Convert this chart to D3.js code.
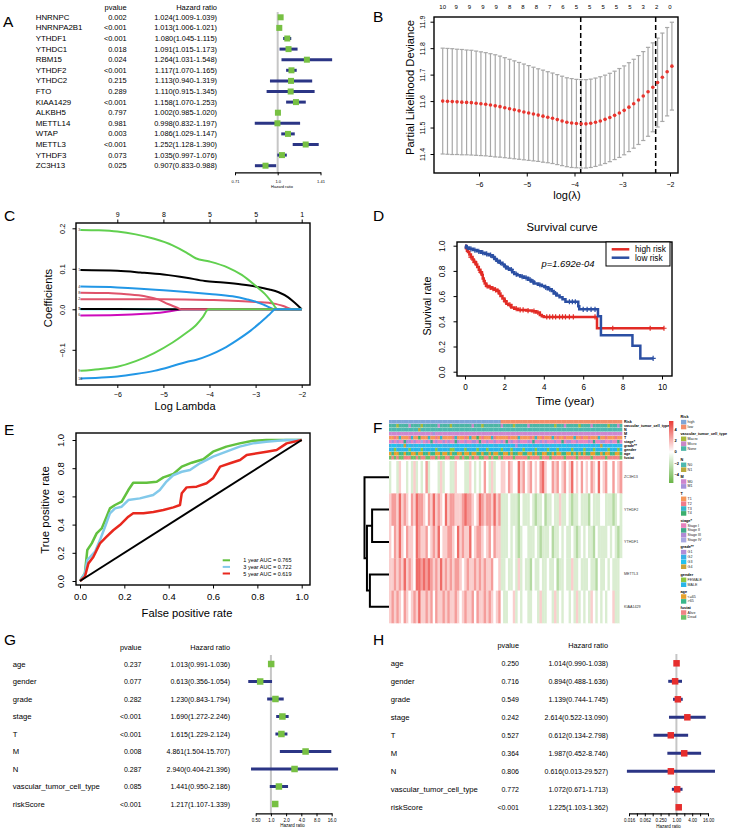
<!DOCTYPE html>
<html>
<head>
<meta charset="utf-8">
<script src="https://cdn.jsdelivr.net/npm/d3@7/dist/d3.min.js"></script>
<style>
html,body{margin:0;padding:0;background:#fff;}
svg{display:block;font-family:"Liberation Sans",Arial,Helvetica,sans-serif;}
</style>
</head>
<body>
<script>
// ================= DATA =================
// Panel A : univariate Cox of m6A genes
const genesA = ["HNRNPC","HNRNPA2B1","YTHDF1","YTHDC1","RBM15","YTHDF2","YTHDC2","FTO","KIAA1429","ALKBH5","METTL14","WTAP","METTL3","YTHDF3","ZC3H13"];
const pA  = ["0.002","<0.001","<0.001","0.018","0.024","<0.001","0.215","0.289","<0.001","0.797","0.981","0.003","<0.001","0.073","0.025"];
const hrA = [1.024,1.013,1.080,1.091,1.264,1.117,1.113,1.110,1.158,1.002,0.998,1.086,1.252,1.035,0.907];
const loA = [1.009,1.006,1.045,1.015,1.031,1.070,0.940,0.915,1.070,0.985,0.832,1.029,1.128,0.997,0.833];
const hiA = [1.039,1.021,1.115,1.173,1.548,1.165,1.319,1.345,1.253,1.020,1.197,1.147,1.390,1.076,0.988];
const ticksA = [0.71,1.0,1.41];
const tickLabA = ["0.71","1.0","1.41"];

// Panel B : cross-validation curve
const lambdaB = [-6.76,-6.66,-6.56,-6.46,-6.36,-6.26,-6.16,-6.06,-5.96,-5.86,-5.76,-5.66,-5.56,-5.46,-5.36,-5.26,-5.16,-5.06,-4.96,-4.86,-4.76,-4.66,-4.56,-4.46,-4.36,-4.26,-4.16,-4.06,-3.96,-3.86,-3.76,-3.66,-3.56,-3.46,-3.36,-3.26,-3.16,-3.06,-2.96,-2.86,-2.76,-2.66,-2.56,-2.46,-2.36,-2.26,-2.16,-2.06,-1.96];
const meanB = [11.600,11.599,11.598,11.597,11.596,11.595,11.594,11.592,11.590,11.588,11.585,11.582,11.579,11.575,11.571,11.567,11.563,11.559,11.555,11.551,11.547,11.543,11.539,11.535,11.530,11.525,11.520,11.517,11.515,11.514,11.514,11.516,11.520,11.525,11.531,11.538,11.546,11.555,11.565,11.577,11.590,11.604,11.619,11.635,11.652,11.670,11.690,11.711,11.732];
const sdB = [0.200,0.200,0.200,0.199,0.199,0.198,0.198,0.197,0.196,0.195,0.194,0.193,0.191,0.189,0.187,0.185,0.183,0.181,0.179,0.177,0.175,0.174,0.172,0.171,0.170,0.169,0.168,0.168,0.167,0.167,0.167,0.167,0.167,0.167,0.167,0.167,0.167,0.168,0.168,0.168,0.168,0.168,0.168,0.168,0.168,0.168,0.167,0.167,0.166];
const nzB = ["10","9","9","9","9","8","8","8","7","6","5","5","5","5","5","3","2","0"];
const cutB = [-3.87,-2.30];
const xTicksB = [-6,-5,-4,-3,-2];
const yTicksB = [11.4,11.5,11.6,11.7,11.8,11.9];

// Panel C : coefficient paths (log lambda, coefficient)
const pathC1 = [[-6.8,0.097],[-6.0,0.095],[-5.5,0.091],[-5.0,0.086],[-4.5,0.078],[-4.1,0.070],[-3.7,0.066],[-3.3,0.061],[-3.0,0.056],[-2.7,0.049],[-2.5,0.042],[-2.3,0.030],[-2.15,0.016],[-2.0,0.0]];
const pathC2 = [[-6.8,0.025],[-6.0,0.025],[-5.0,0.025],[-4.0,0.023],[-3.0,0.018],[-2.6,0.014],[-2.4,0.008],[-2.2,0.0],[-2.0,0.0]];
const pathC3 = [[-6.8,0.196],[-6.4,0.195],[-6.0,0.192],[-5.6,0.185],[-5.2,0.174],[-4.8,0.158],[-4.5,0.140],[-4.3,0.126],[-4.0,0.118],[-3.6,0.103],[-3.3,0.085],[-3.0,0.058],[-2.8,0.038],[-2.65,0.018],[-2.52,0.0],[-2.0,0.0]];
const pathC4 = [[-6.8,0.056],[-6.0,0.054],[-5.5,0.051],[-5.0,0.047],[-4.5,0.043],[-4.0,0.038],[-3.5,0.032],[-3.2,0.025],[-3.0,0.019],[-2.8,0.010],[-2.57,0.0],[-2.0,0.0]];
const pathC5 = [[-6.8,0.0],[-2.0,0.0]];
const pathC6 = [[-6.8,-0.015],[-6.0,-0.014],[-5.4,-0.011],[-5.0,-0.007],[-4.7,-0.002],[-4.6,0.0],[-2.0,0.0]];
const pathC7 = [[-6.8,0.001],[-6.0,0.0006],[-5.0,0.0],[-2.0,0.0]];
const pathC8 = [[-6.8,0.041],[-6.2,0.040],[-5.8,0.037],[-5.4,0.032],[-5.1,0.024],[-4.9,0.013],[-4.7,0.004],[-4.62,0.0],[-2.0,0.0]];
const pathC9 = [[-6.8,-0.152],[-6.4,-0.148],[-6.0,-0.142],[-5.6,-0.128],[-5.2,-0.108],[-4.8,-0.082],[-4.5,-0.058],[-4.3,-0.040],[-4.15,-0.020],[-4.02,0.0],[-2.0,0.0]];
const pathC10 = [[-6.8,-0.171],[-6.4,-0.169],[-6.0,-0.166],[-5.6,-0.160],[-5.2,-0.152],[-4.8,-0.140],[-4.5,-0.130],[-4.3,-0.125],[-4.0,-0.113],[-3.7,-0.097],[-3.4,-0.076],[-3.1,-0.052],[-2.9,-0.033],[-2.7,-0.013],[-2.57,0.0],[-2.0,0.0]];
const pathsC = [pathC1,pathC2,pathC3,pathC4,pathC5,pathC6,pathC7,pathC8,pathC9,pathC10];
const labelsC = ["1","2","3","4","5","6","7","8","9","10"];
const colorsC = ["#000000","#DF536B","#61D04F","#2297E6","#28E2E5","#CD0BBC","#000000","#DF536B","#61D04F","#2297E6"];
const topC = ["9","8","5","5","1"];
const xTicksC = [-6,-5,-4,-3,-2];
const yTicksC = [-0.1,0.0,0.1,0.2];

// Panel D : Kaplan-Meier
const highT = [0,0.05,0.1,0.15,0.22,0.3,0.38,0.45,0.55,0.62,0.7,0.78,0.85,0.9,0.95,1.0,1.08,1.2,1.35,1.5,1.62,1.72,1.8,1.9,2.0,2.1,2.2,2.35,2.5,2.7,3.1,3.4,3.6,3.8,3.9,4.0,6.7,10.1];
const highS = [1,0.98,0.96,0.95,0.93,0.91,0.89,0.87,0.85,0.83,0.81,0.79,0.77,0.74,0.72,0.70,0.68,0.67,0.66,0.65,0.64,0.62,0.60,0.58,0.56,0.54,0.53,0.51,0.50,0.49,0.485,0.48,0.47,0.45,0.44,0.435,0.345,0.345];
const highC = [0.3,0.5,0.8,1.12,1.28,1.42,1.55,1.68,2.05,2.28,2.6,2.8,2.95,3.2,3.5,3.7,4.15,4.3,4.45,4.6,4.8,4.95,5.1,5.3,5.5,6.6,7.5,9.4,10.1];
const lowT = [0,0.05,0.2,0.4,0.6,0.8,1.0,1.2,1.4,1.5,1.6,1.75,1.9,2.0,2.1,2.25,2.4,2.5,2.65,2.8,3.0,3.2,3.35,3.5,3.7,3.9,4.05,4.2,4.4,4.5,4.65,4.8,4.95,5.1,5.75,5.8,6.75,6.9,8.5,8.9,9.55];
const lowS = [1,0.985,0.975,0.965,0.955,0.945,0.935,0.925,0.91,0.895,0.88,0.865,0.85,0.835,0.82,0.81,0.79,0.775,0.765,0.755,0.745,0.73,0.715,0.70,0.69,0.68,0.67,0.655,0.64,0.62,0.605,0.59,0.575,0.555,0.52,0.495,0.44,0.29,0.206,0.105,0.105];
const lowC = [0.12,0.3,0.5,0.7,0.9,1.1,1.3,1.45,1.65,1.8,2.05,2.2,2.35,2.6,2.9,3.1,3.3,3.45,3.8,4.1,4.3,4.6,5.3,5.45,5.6,6.0,6.2,6.4,6.6,9.55];
const groupsD = ["high risk","low risk"];
const xTicksD = [0,2,4,6,8,10];
const yTicksD = [0,0.2,0.4,0.6,0.8,1.0];

// Panel E : ROC
const roc1F = [0,0.022,0.033,0.053,0.075,0.098,0.12,0.135,0.158,0.188,0.218,0.24,0.30,0.346,0.376,0.421,0.459,0.504,0.556,0.60,0.66,0.72,0.78,0.84,1.0];
const roc1T = [0,0.054,0.22,0.267,0.338,0.373,0.456,0.515,0.539,0.563,0.645,0.697,0.697,0.704,0.735,0.759,0.811,0.839,0.863,0.917,0.953,0.976,0.995,1.0,1.0];
const roc3F = [0,0.022,0.033,0.068,0.09,0.113,0.135,0.158,0.188,0.218,0.27,0.33,0.36,0.39,0.42,0.459,0.496,0.541,0.60,0.66,0.72,0.78,0.84,0.93,1.0];
const roc3T = [0,0.054,0.149,0.208,0.29,0.385,0.48,0.515,0.527,0.574,0.586,0.61,0.645,0.705,0.75,0.775,0.787,0.835,0.882,0.917,0.953,0.976,0.988,1.0,1.0];
const roc5F = [0,0.022,0.038,0.06,0.09,0.12,0.15,0.18,0.218,0.24,0.286,0.331,0.376,0.421,0.451,0.459,0.481,0.526,0.571,0.60,0.632,0.677,0.722,0.752,0.842,0.887,0.932,1.0];
const roc5T = [0,0.03,0.125,0.17,0.267,0.314,0.36,0.397,0.456,0.48,0.48,0.49,0.503,0.522,0.539,0.622,0.664,0.669,0.693,0.728,0.811,0.835,0.858,0.894,0.917,0.929,0.976,1.0];
const aucE = ["1 year AUC =  0.765","3 year AUC =  0.722","5 year AUC =  0.619"];
const ticksE = [0,0.2,0.4,0.6,0.8,1.0];

// Panel F : heatmap (value codes: digit - 4) and annotations (category index)
const genesF = ["ZC3H13","YTHDF2","YTHDF1","METTL3","KIAA1429"];
const zc3h13F = "34435443 43534346 34443534 43354443 35434346 43534455 46544756 45645467 54465645 64574546 45465474 56446456";
const ythdf2F = "56657565 46576654 65756547 56655567 66545765 66575633 34333243 33432334 23343353 34323343 33243334 43332343";
const ythdf1F = "54657546 55476556 45657455 66547565 57456654 56465533 34343234 43334323 33423343 43343234 34332433 33434323";
const mettl3F = "55656575 65477676 76565756 56566545 65565656 55644533 43343534 33243343 34334233 43353343 33433243 34343334";
const kiaaF   = "56565465 45657556 56465565 65565456 55646556 56545643 34453434 43344353 34435343 44343534 34354343 43445334";
const riskF   = "00000000 00000000 00000000 00000000 00000000 00000011 11111111 11111111 11111111 11111111 11111111 11111111";
const vascF   = "22202222 12222022 22221222 20222222 22122202 22222212 22202222 21222222 22220222 12222202 22212222 22022212";
const nF      = "00000000 00001000 00000000 00000000 00000000 00000000 00000000 00000000 00000000 00000000 00000000 00000000";
const mF      = "00000000 00000000 00100000 00000000 00000000 00000000 00000000 00000000 00000000 00000000 00000000 00000000";
const tF      = "00102000 12003000 20010200 00120001 02003010 00210000 01000200 00102001 00020100 10002001 00100020 01000100";
const stageF  = "02020012 20200302 01020020 20012002 00220100 20020020 10200200 02010020 20002001 02200200 00201002 20020010";
const gradeF  = "12211231 21121212 21211211 12121221 21212112 12211221 21210121 21212121 12121212 21211212 12121213 21212121";
const genderF = "11011111 01111011 11101111 10011110 11110111 01111101 11011110 11110111 10111011 11101111 01110111 11011101";
const ageF    = "01001101 10010011 01100100 10110010 01001101 10100110 01011001 10010110 01101001 10010101 01100110 10011001";
const fustatF = "10101100 01101001 10010110 01100101 10100110 01011010 00010000 01000010 00100000 10000100 00010000 01000001";
const annNames = ["Risk","vascular_tumor_cell_type","N","M","T","stage*","grade**","gender","age","fustat"];
const annItems = [["high","low"],["Macro","Micro","None"],["N0","N1"],["M0","M1"],["T1","T2","T3","T4"],["Stage I","Stage II","Stage III","Stage IV"],["G1","G2","G3","G4"],["FEMALE","MALE"],["<=65",">65"],["Alive","Dead"]];
const annColors = [["#7ea6d8","#f28e6b"],["#a9b93c","#c987c7","#4cb5a5"],["#4db8b0","#b8a83c"],["#cd86cf","#a793db"],["#f5975a","#f07a8a","#38b4c8","#3aaf6e"],["#e883bf","#40aa8c","#b08ad6","#a8a8e0"],["#b28cd8","#3ab0e6","#22c2ee","#c8a23a"],["#8dc63f","#2ab5e8"],["#e6a12b","#3ab88a"],["#f08486","#6cc16a"]];
const cbTicks = [4,2,0,-2,-4];
// dendrogram merges: [childA, childB, height]
const dendroF = [["YTHDF2","YTHDF1",0.69],["METTL3","KIAA1429",0.78],["m0","m1",0.90],["ZC3H13","m2",1.0]];

// Panel G : univariate Cox of clinical features
const varsG = ["age","gender","grade","stage","T","M","N","vascular_tumor_cell_type","riskScore"];
const pG  = ["0.237","0.077","0.282","<0.001","<0.001","0.008","0.287","0.085","<0.001"];
const hrG = [1.013,0.613,1.230,1.690,1.615,4.861,2.940,1.441,1.217];
const loG = [0.991,0.356,0.843,1.272,1.229,1.504,0.404,0.950,1.107];
const hiG = [1.036,1.054,1.794,2.246,2.124,15.707,21.396,2.186,1.339];
const ticksG = [0.5,1,2,4,8,16];
const tickLabG = ["0.50","1.0","2.0","4.0","8.0","16.0"];

// Panel H : multivariate Cox
const pH  = ["0.250","0.716","0.549","0.242","0.527","0.364","0.806","0.772","<0.001"];
const hrH = [1.014,0.894,1.139,2.614,0.612,1.987,0.616,1.072,1.225];
const loH = [0.990,0.488,0.744,0.522,0.134,0.452,0.013,0.671,1.103];
const hiH = [1.038,1.636,1.745,13.090,2.798,8.746,29.527,1.713,1.362];
const ticksH = [0.015625,0.03125,0.0625,0.125,0.25,0.5,1,2,4,8,16];
const tickLabH = ["0.016","","0.062","","0.250","","1.00","","4.00","","16.00"];

// ================= DRAWING =================
const W = 729, H = 833;
const NAVY = "#2b3585";
const svg = d3.select("body").append("svg").attr("width",W).attr("height",H);
svg.append("rect").attr("width",W).attr("height",H).attr("fill","#fff");

function text(g,x,y,s,size,anchor,opt){
  opt = opt||{};
  const t = g.append("text").attr("x",x).attr("y",y).attr("font-size",size)
    .attr("text-anchor",anchor||"start").attr("dominant-baseline",opt.base||"central")
    .attr("fill",opt.fill||"#000").text(s);
  if(opt.rot) t.attr("transform",`rotate(${opt.rot},${x},${y})`);
  if(opt.weight) t.attr("font-weight",opt.weight);
  if(opt.style) t.attr("font-style",opt.style);
  return t;
}
function styleAxis(a,fs){
  a.attr("font-family",null).attr("font-size",fs);
  a.selectAll(".tick line").attr("stroke","#000").attr("stroke-width",1);
  a.selectAll(".tick text").attr("fill","#000");
}
function axBottom(g,scale,vals,y,size,fmt,off,fs){
  const a = g.append("g").attr("transform",`translate(0,${y})`)
    .call(d3.axisBottom(scale).tickValues(vals).tickSize(size).tickFormat(fmt));
  styleAxis(a,fs); a.select(".domain").remove();
  a.selectAll(".tick text").attr("y",off).attr("dy",null).attr("dominant-baseline","central");
  return a;
}
function axTop(g,scale,vals,y,size,fmt,off,fs){
  const a = g.append("g").attr("transform",`translate(0,${y})`)
    .call(d3.axisTop(scale).tickValues(vals).tickSize(size).tickFormat(fmt));
  styleAxis(a,fs); a.select(".domain").remove();
  a.selectAll(".tick text").attr("y",-off).attr("dy",null).attr("dominant-baseline","central");
  return a;
}
function axLeftRot(g,scale,vals,x,size,fmt,off,fs){
  const a = g.append("g").attr("transform",`translate(${x},0)`)
    .call(d3.axisLeft(scale).tickValues(vals).tickSize(size).tickFormat(fmt));
  styleAxis(a,fs); a.select(".domain").remove();
  a.selectAll(".tick text").attr("x",null).attr("dy",null).attr("text-anchor","middle")
    .attr("dominant-baseline","central").attr("transform",`translate(${-off},0) rotate(-90)`);
  return a;
}
function box(g,x,y,w,h){
  g.append("rect").attr("x",x).attr("y",y).attr("width",w).attr("height",h)
    .attr("fill","none").attr("stroke","#000").attr("stroke-width",1.4);
}
function hrText(h,l,u){ return h.toFixed(3)+"("+l.toFixed(3)+"-"+u.toFixed(3)+")"; }

function forest(g,x,yf,hr,lo,hi,col,sq,vTop,axY,tv,tf,tfs,labOff,hrX,hrY){
  g.append("line").attr("x1",x(1)).attr("x2",x(1)).attr("y1",vTop).attr("y2",axY)
    .attr("stroke","#c6c6c6").attr("stroke-width",2);
  hr.forEach((h,i)=>{
    g.append("line").attr("x1",x(lo[i])).attr("x2",x(hi[i])).attr("y1",yf(i)).attr("y2",yf(i))
      .attr("stroke",NAVY).attr("stroke-width",3);
  });
  hr.forEach((h,i)=>{
    g.append("rect").attr("x",x(h)-sq/2).attr("y",yf(i)-sq/2).attr("width",sq).attr("height",sq).attr("fill",col);
  });
  const a = g.append("g").attr("transform",`translate(0,${axY})`)
    .call(d3.axisBottom(x).tickValues(tv).tickFormat(tf).tickSize(3).tickSizeOuter(0));
  a.attr("font-family",null).attr("font-size",tfs);
  a.select(".domain").attr("stroke","#000").attr("stroke-width",1.3);
  a.selectAll(".tick line").attr("stroke","#000").attr("stroke-width",1);
  a.selectAll(".tick text").attr("fill","#000").attr("y",labOff).attr("dy",null).attr("dominant-baseline","central");
  text(g,hrX,hrY,"Hazard ratio",tfs,"middle");
}

// panel letters
[["A",3,27],["B",373,22],["C",4,221],["D",373,221],["E",4,435],["F",373,433],["G",4,645],["H",373,645]]
  .forEach(d=>text(svg,d[1],d[2],d[0],15.5,"start",{base:"alphabetic"}));

// ---------- Panel A ----------
{
  const g = svg.append("g");
  const yA = i=>17.3+i*10.6;
  text(g,126.7,7.3,"pvalue",7.5,"end");
  text(g,217,7.3,"Hazard ratio",7.5,"end");
  genesA.forEach((s,i)=>{
    text(g,35.7,yA(i),s,7.9);
    text(g,126.7,yA(i),pA[i],7.4,"end");
    text(g,217,yA(i),hrText(hrA[i],loA[i],hiA[i]),7.4,"end");
  });
  const xA = d3.scaleLog().domain([0.71,1.41]).range([235,320.5]);
  forest(g,xA,yA,hrA,loA,hiA,"#77c043",6,12,172.3,ticksA,(d,i)=>tickLabA[i],4,9.5,282,186.5);
}

// ---------- Panel B ----------
{
  const g = svg.append("g");
  const xB = d3.scaleLinear().domain([-6,-2]).range([479,670]);
  const yB = d3.scaleLinear().domain([11.4,11.9]).range([154,21.7]);
  lambdaB.forEach((l,i)=>{
    const x = xB(l), y1 = yB(meanB[i]-sdB[i]), y2 = yB(meanB[i]+sdB[i]);
    g.append("line").attr("x1",x).attr("x2",x).attr("y1",y1).attr("y2",y2).attr("stroke","#a8a8a8").attr("stroke-width",1.2);
    [y1,y2].forEach(y=>g.append("line").attr("x1",x-2.1).attr("x2",x+2.1).attr("y1",y).attr("y2",y).attr("stroke","#a8a8a8").attr("stroke-width",1.2));
  });
  cutB.forEach(c=>g.append("line").attr("x1",xB(c)).attr("x2",xB(c)).attr("y1",17).attr("y2",173)
    .attr("stroke","#000").attr("stroke-width",1.5).attr("stroke-dasharray","5,3"));
  lambdaB.forEach((l,i)=>g.append("circle").attr("cx",xB(l)).attr("cy",yB(meanB[i])).attr("r",1.8).attr("fill","#e8352e"));
  box(g,434,17,244,156);
  axBottom(g,xB,xTicksB,173,3.5,d3.format("d"),11,7);
  axLeftRot(g,yB,yTicksB,434,3.5,d3.format(".1f"),12,7);
  const l0 = -6.76, l1 = -2.0;
  nzB.forEach((s,i)=>text(g,xB(l0+i*(l1-l0)/(nzB.length-1)),6.7,s,6,"middle"));
  text(g,410,87.5,"Partial Likelihood Deviance",11.2,"middle",{rot:-90});
  text(g,567,194.5,"log(\u03bb)",11,"middle");
}

// ---------- Panel C ----------
{
  const g = svg.append("g");
  const xC = d3.scaleLinear().domain([-6,-2]).range([117.3,301.7]);
  const yC = d3.scaleLinear().domain([0,0.2]).range([309.3,228.3]);
  const line = d3.line().x(d=>xC(d[0])).y(d=>yC(d[1])).curve(d3.curveMonotoneX);
  pathsC.forEach((p,i)=>g.append("path").attr("d",line(p)).attr("fill","none").attr("stroke",colorsC[i]).attr("stroke-width",2));
  pathsC.forEach((p,i)=>text(g,78.3,yC(p[0][1]),labelsC[i],3.6,"start",{fill:"#222"}));
  box(g,76,223,234,162);
  axBottom(g,xC,xTicksC,385,3,d3.format("d"),9,7);
  axTop(g,xC,xTicksC,223,3.5,(d,i)=>topC[i],9,7);
  axLeftRot(g,yC,yTicksC,76,3.5,d3.format(".1f"),13.3,7.3);
  text(g,48,298,"Coefficients",11.2,"middle",{rot:-90});
  text(g,185,405.5,"Log Lambda",11,"middle");
}

// ---------- Panel D ----------
{
  const g = svg.append("g");
  const xD = d3.scaleLinear().domain([0,10]).range([465,662]);
  const yD = d3.scaleLinear().domain([0,1]).range([371.7,245.7]);
  const step = d3.line().x(d=>xD(d[0])).y(d=>yD(d[1])).curve(d3.curveStepAfter);
  const groups = [
    {t:highT,s:highS,c:highC,col:"#e22b25"},
    {t:lowT,s:lowS,c:lowC,col:"#2b4fa3"}
  ];
  groups.forEach(gr=>{
    const pts = gr.t.map((t,i)=>[t,gr.s[i]]);
    g.append("path").attr("d",step(pts)).attr("fill","none").attr("stroke",gr.col).attr("stroke-width",2.5);
    gr.c.forEach(ct=>{
      const idx = d3.bisectRight(gr.t,ct)-1;
      const x = xD(ct), y = yD(gr.s[Math.max(0,idx)]);
      g.append("path").attr("d",`M${x-2.6},${y}H${x+2.6}M${x},${y-2.6}V${y+2.6}`).attr("stroke",gr.col).attr("stroke-width",1.2);
    });
  });
  box(g,457,242,215,134);
  axBottom(g,xD,xTicksD,376,3.5,d3.format("d"),11.5,8.2);
  axLeftRot(g,yD,yTicksD,457,3.5,d3.format(".1f"),15.3,8.4);
  text(g,562,227,"Survival curve",11.3,"middle");
  text(g,427,306,"Survival rate",10.6,"middle",{rot:-90});
  text(g,565,400,"Time (year)",11.6,"middle");
  g.append("rect").attr("x",606).attr("y",242).attr("width",64).attr("height",24).attr("fill","#fff").attr("stroke","#000").attr("stroke-width",1);
  groupsD.forEach((s,i)=>{
    const y = 249.3+i*8.4;
    g.append("line").attr("x1",611.7).attr("x2",629.3).attr("y1",y).attr("y2",y).attr("stroke",groups[i].col).attr("stroke-width",2.5);
    text(g,635,y,s,8.3);
  });
  text(g,568,263,"p=1.692e-04",9.4,"middle",{style:"italic"});
}

// ---------- Panel E ----------
{
  const g = svg.append("g");
  const xE = d3.scaleLinear().domain([0,1]).range([80,301.7]);
  const yE = d3.scaleLinear().domain([0,1]).range([581,440]);
  const line = d3.line().x(d=>xE(d[0])).y(d=>yE(d[1]));
  const rocs = [[roc1F,roc1T,"#62c13f"],[roc3F,roc3T,"#82c9ea"],[roc5F,roc5T,"#e8281e"]];
  rocs.forEach(r=>g.append("path").attr("d",line(r[0].map((f,i)=>[f,r[1][i]]))).attr("fill","none").attr("stroke",r[2]).attr("stroke-width",2.5).attr("stroke-linejoin","round"));
  g.append("path").attr("d",line([[ticksE[0],ticksE[0]],[ticksE[5],ticksE[5]]])).attr("stroke","#000").attr("stroke-width",2);
  box(g,76,433,234,152);
  axBottom(g,xE,ticksE,585,3.5,d3.format(".1f"),11.7,9.5);
  axLeftRot(g,yE,ticksE,76,3.5,d3.format(".1f"),16,9.5);
  text(g,45,510,"True positive rate",11.4,"middle",{rot:-90});
  text(g,187,613,"False positive rate",11.2,"middle");
  aucE.forEach((s,i)=>{
    const y = 560.3+i*6.6;
    g.append("line").attr("x1",222.7).attr("x2",230).attr("y1",y).attr("y2",y).attr("stroke",rocs[i][2]).attr("stroke-width",2);
    text(g,243.3,y,s,5.5);
  });
}

// ---------- Panel F ----------
{
  const g = svg.append("g");
  const parse = s=>s.replace(/ /g,"").split("").map(Number);
  const hm = [zc3h13F,ythdf2F,ythdf1F,mettl3F,kiaaF].map(parse);
  const ann = [riskF,vascF,nF,mF,tF,stageF,gradeF,genderF,ageF,fustatF].map(parse);
  const nCol = ann[0].length;
  const xF = d3.scaleBand().domain(d3.range(nCol)).range([389,622]);
  const yAnn = d3.scaleBand().domain(annNames).range([420,459.5]).paddingInner(0.1);
  const yHm = d3.scaleBand().domain(genesF).range([461,623]);
  const heat = d3.scaleLinear().domain([-4,0,4]).range(["#6ab547","#ffffff","#ea3b36"]);
  const bw = xF.bandwidth();
  ann.forEach((row,r)=>row.forEach((v,j)=>{
    g.append("rect").attr("x",xF(j)).attr("y",yAnn(annNames[r])).attr("width",bw+0.35).attr("height",yAnn.bandwidth()).attr("fill",annColors[r][v]);
  }));
  hm.forEach((row,r)=>row.forEach((v,j)=>{
    g.append("rect").attr("x",xF(j)).attr("y",yHm(genesF[r])).attr("width",bw+0.35).attr("height",yHm.bandwidth()+0.3).attr("fill",heat(v-4));
  }));
  annNames.forEach(n=>text(g,624,yAnn(n)+yAnn.bandwidth()/2,n,3.7,"start",{weight:"bold"}));
  genesF.forEach(n=>text(g,624,yHm(n)+yHm.bandwidth()/2,n,3.7,"start",{fill:"#333"}));
  // dendrogram
  const xD = d3.scaleLinear().domain([0,1]).range([389,364.5]);
  const pos = {};
  genesF.forEach(n=>pos[n]={x:389,y:yHm(n)+yHm.bandwidth()/2});
  dendroF.forEach((m,i)=>{
    const a = pos[m[0]], b = pos[m[1]], x = xD(m[2]);
    g.append("path").attr("d",`M${a.x},${a.y}H${x}V${b.y}H${b.x}`).attr("fill","none").attr("stroke","#000").attr("stroke-width",2);
    pos["m"+i] = {x:x,y:(a.y+b.y)/2};
  });
  // colour bar
  const defs = svg.append("defs");
  const grad = defs.append("linearGradient").attr("id","cbar").attr("x1",0).attr("x2",0).attr("y1",0).attr("y2",1);
  [[0,heat(4)],[0.5,heat(0)],[1,heat(-4)]].forEach(s=>grad.append("stop").attr("offset",s[0]).attr("stop-color",s[1]));
  const yCB = d3.scaleLinear().domain([4,-4]).range([429,474]);
  g.append("rect").attr("x",669).attr("y",421).attr("width",4.4).attr("height",62).attr("fill","url(#cbar)");
  const a = g.append("g").attr("transform","translate(673.4,0)").call(d3.axisRight(yCB).tickValues(cbTicks).tickSize(0).tickPadding(1));
  a.attr("font-family",null).attr("font-size",4); a.select(".domain").remove();
  a.selectAll(".tick text").attr("fill","#000").attr("font-weight","bold");
  // annotation legends
  const titleY = [417.3,434,460,476.7,494,520.7,547.3,575,591.7,607.7];
  annNames.forEach((n,r)=>{
    text(g,680.5,titleY[r],n,3.8,"start",{weight:"bold"});
    annItems[r].forEach((it,k)=>{
      const y = titleY[r]+4.85*(k+1);
      g.append("rect").attr("x",681).attr("y",y-2.3).attr("width",5.3).attr("height",4.6).attr("fill",annColors[r][k]);
      text(g,687.6,y,it,3.6,"start",{fill:"#222"});
    });
  });
}

// ---------- Panel G ----------
{
  const g = svg.append("g");
  const yG = i=>664+i*17.5;
  text(g,141.5,647.3,"pvalue",7.3,"end");
  text(g,230,647.3,"Hazard ratio",7.3,"end");
  varsG.forEach((s,i)=>{
    text(g,12.7,yG(i),s,7.7);
    text(g,141.5,yG(i),pG[i],7,"end");
    text(g,230,yG(i),hrText(hrG[i],loG[i],hiG[i]),7,"end");
  });
  const xG = d3.scaleLog().base(2).domain([0.5,16]).range([255.7,331.7]);
  forest(g,xG,yG,hrG,loG,hiG,"#77c043",6.5,655,813.3,ticksG,(d,i)=>tickLabG[i],4.5,7,292.5,825.5);
}

// ---------- Panel H ----------
{
  const g = svg.append("g");
  const yH = i=>663.3+i*18;
  text(g,519,645.7,"pvalue",7.3,"end");
  text(g,608,645.7,"Hazard ratio",7.3,"end");
  varsG.forEach((s,i)=>{
    text(g,390.7,yH(i),s,7.7);
    text(g,519,yH(i),pH[i],7,"end");
    text(g,608,yH(i),hrText(hrH[i],loH[i],hiH[i]),7,"end");
  });
  const xH = d3.scaleLog().base(2).domain([0.015625,16]).range([629,708]);
  forest(g,xH,yH,hrH,loH,hiH,"#e62e2d",6.5,654,813.3,ticksH,(d,i)=>tickLabH[i],4.5,7,668.5,826);
}
</script>
</body>
</html>
